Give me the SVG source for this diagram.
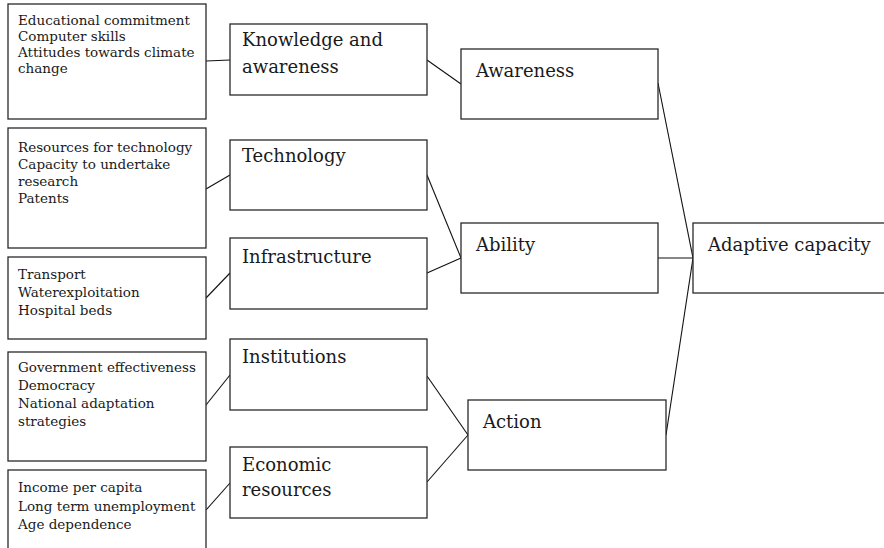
<svg xmlns="http://www.w3.org/2000/svg" width="884" height="548" viewBox="0 0 884 548">
<style>
rect{fill:#fff;stroke:#2a2a2a;stroke-width:1.3}
.s{font-family:"DejaVu Serif","Liberation Serif",serif;font-size:13.5px;fill:#1a1a1a}
.m{font-family:"DejaVu Serif","Liberation Serif",serif;font-size:18px;fill:#1a1a1a}
#connectors line{stroke:#111;stroke-width:1.1}
</style>
<rect x="0" y="0" width="884" height="548" style="fill:#fff;stroke:none"/>
<g id="connectors">
<line x1="206" y1="61" x2="230" y2="60"/>
<line x1="206" y1="189" x2="230" y2="175"/>
<line x1="206" y1="298" x2="230" y2="273"/>
<line x1="206" y1="405" x2="230" y2="375"/>
<line x1="206" y1="510" x2="230" y2="483"/>
<line x1="427" y1="60" x2="461" y2="84"/>
<line x1="427" y1="175" x2="461" y2="258"/>
<line x1="427" y1="273" x2="461" y2="258"/>
<line x1="427" y1="376" x2="468" y2="435"/>
<line x1="427" y1="482" x2="468" y2="435"/>
<line x1="658" y1="83" x2="693" y2="258"/>
<line x1="658" y1="258" x2="693" y2="258"/>
<line x1="666" y1="435" x2="693" y2="258"/>
</g>
<g id="n1"><rect x="8" y="4" width="198" height="115"/>
<text class="s" x="18"><tspan x="18" y="25">Educational commitment</tspan><tspan x="18" y="41">Computer skills</tspan><tspan x="18" y="57">Attitudes towards climate</tspan><tspan x="18" y="73">change</tspan></text></g>
<g id="n2"><rect x="8" y="128" width="198" height="120"/>
<text class="s"><tspan x="18" y="152">Resources for technology</tspan><tspan x="18" y="169">Capacity to undertake</tspan><tspan x="18" y="186">research</tspan><tspan x="18" y="203">Patents</tspan></text></g>
<g id="n3"><rect x="8" y="257" width="198" height="82"/>
<text class="s"><tspan x="18" y="279">Transport</tspan><tspan x="18" y="297">Waterexploitation</tspan><tspan x="18" y="315">Hospital beds</tspan></text></g>
<g id="n4"><rect x="8" y="352" width="198" height="109"/>
<text class="s"><tspan x="18" y="372">Government effectiveness</tspan><tspan x="18" y="390">Democracy</tspan><tspan x="18" y="408">National adaptation</tspan><tspan x="18" y="426">strategies</tspan></text></g>
<g id="n5"><rect x="8" y="470" width="198" height="95"/>
<text class="s"><tspan x="18" y="492">Income per capita</tspan><tspan x="18" y="511">Long term unemployment</tspan><tspan x="18" y="529">Age dependence</tspan></text></g>
<g id="knowledge"><rect x="230" y="24" width="197" height="71"/>
<text class="m"><tspan x="242" y="46">Knowledge and</tspan><tspan x="242" y="73">awareness</tspan></text></g>
<g id="technology"><rect x="230" y="140" width="197" height="70"/>
<text class="m" x="242" y="162">Technology</text></g>
<g id="infrastructure"><rect x="230" y="238" width="197" height="71"/>
<text class="m" x="242" y="263">Infrastructure</text></g>
<g id="institutions"><rect x="230" y="339" width="197" height="71"/>
<text class="m" x="242" y="363">Institutions</text></g>
<g id="economic"><rect x="230" y="447" width="197" height="71"/>
<text class="m"><tspan x="242" y="471">Economic</tspan><tspan x="242" y="496">resources</tspan></text></g>
<g id="awareness"><rect x="461" y="49" width="197" height="70"/>
<text class="m" x="476" y="77">Awareness</text></g>
<g id="ability"><rect x="461" y="223" width="197" height="70"/>
<text class="m" x="476" y="251">Ability</text></g>
<g id="action"><rect x="468" y="400" width="198" height="70"/>
<text class="m" x="483" y="428">Action</text></g>
<g id="adaptive"><rect x="693" y="223" width="200" height="70"/>
<text class="m" x="708" y="251">Adaptive capacity</text></g>
</svg>
